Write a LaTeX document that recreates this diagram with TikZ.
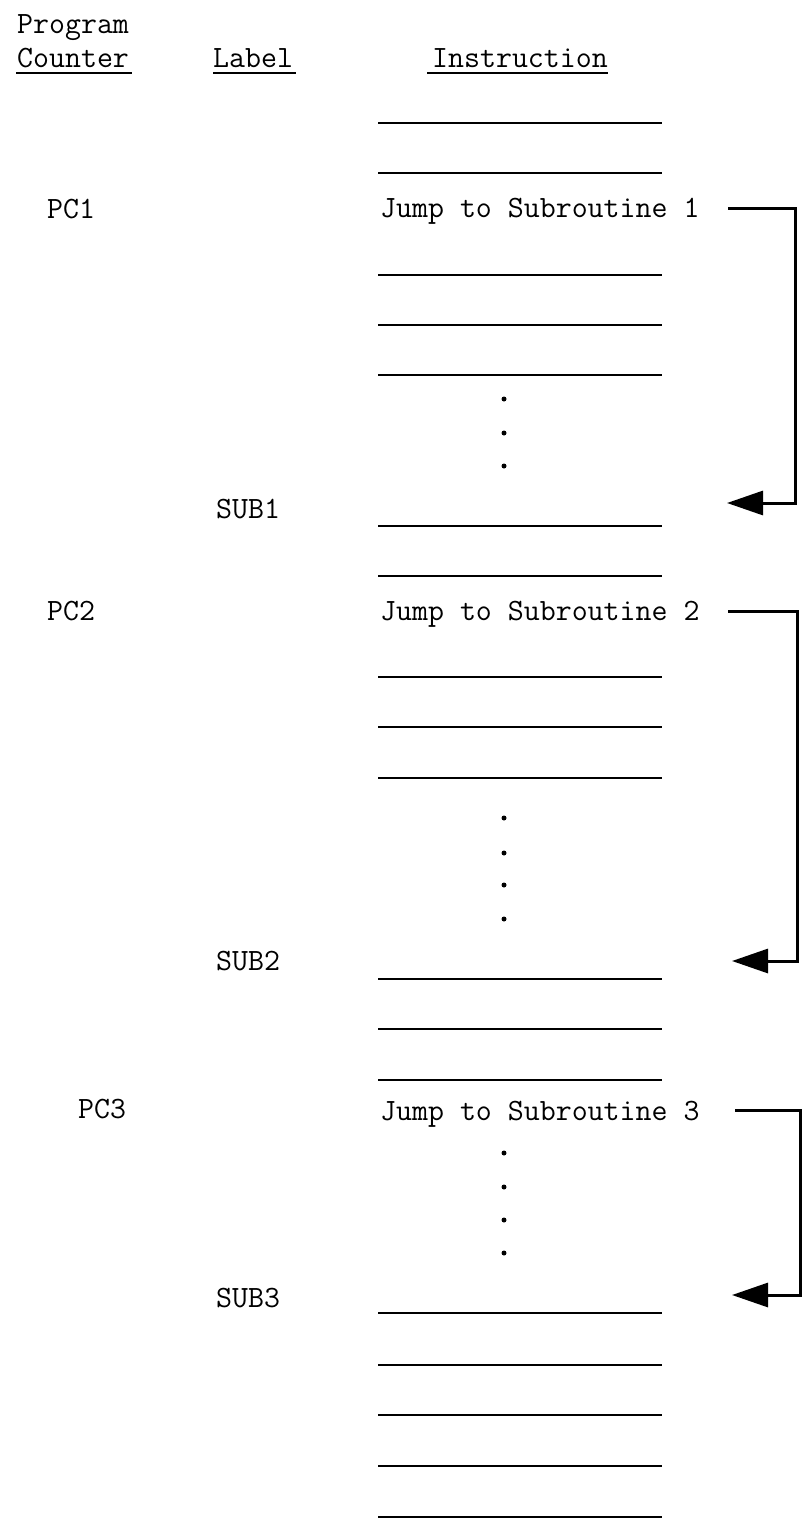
\documentclass[tikz,border=0pt]{standalone}
\usepackage{fontspec}
\usetikzlibrary{arrows.meta}
\tikzset{
  txt/.style={anchor=base west, inner sep=0pt, font=\fontsize{31}{37}\selectfont\ttfamily\addfontfeature{FakeBold=1.2}},
  rule/.style={line width=2pt},
  uline/.style={line width=2pt},
  jmp/.style={line width=3pt, line join=miter, -{Triangle[length=36pt,width=24pt]}},
  dotm/.style={circle, fill=black, inner sep=0pt, minimum size=5pt}
}
\begin{document}
\begin{tikzpicture}[x=1pt,y=-1pt]
\useasboundingbox (0,0) rectangle (806,1526);
% header
\node[txt] (prog) at (17,33) {Program};
\node[txt] (cnt) at (17,67) {Counter};
\node[txt] (lab) at (213,67) {Label};
\node[txt] (ins) at (432,67) {Instruction};
\draw[uline] ([yshift=-6pt,xshift=-1pt]cnt.base west) -- ([yshift=-6pt,xshift=3pt]cnt.base east);
\draw[uline] ([yshift=-6pt]lab.base west) -- ([yshift=-6pt,xshift=3pt]lab.base east);
\draw[uline] ([yshift=-6pt,xshift=-5pt]ins.base west) -- ([yshift=-6pt]ins.base east);
% program counters and labels
\node[txt] (pc1) at (47,218) {PC1};
\node[txt] (pc2) at (47,620) {PC2};
\node[txt] (pc3) at (78,1118) {PC3};
\node[txt] (s1) at (216,518) {SUB1};
\node[txt] (s2) at (216,970) {SUB2};
\node[txt] (s3) at (216,1307) {SUB3};
% jump instructions
\node[txt] (j1) at (380,217) {Jump to Subroutine 1};
\node[txt] (j2) at (380,620) {Jump to Subroutine 2};
\node[txt] (j3) at (380,1120) {Jump to Subroutine 3};
% instruction rules
\foreach \yy in {123,173,275,325,375,526,576,677,727,778,979,1029,1080,1313,1365,1415,1466,1517}
  \draw[rule] (378,\yy) -- (662,\yy);
% dots
\foreach \yy [count=\i] in {399,433,466,818,853,885,919,1153,1187,1220,1253}
  \node[dotm] (dot\i) at (504,\yy) {};
% jump arrows
\coordinate (b1s) at (728,208);
\coordinate (b1c) at (795,208);
\coordinate (b1e) at (727,503);
\coordinate (b2s) at (728,611);
\coordinate (b2c) at (797,611);
\coordinate (b2e) at (732,961);
\coordinate (b3s) at (735,1110);
\coordinate (b3c) at (800,1110);
\coordinate (b3e) at (732,1295);
\draw[jmp] (b1s) -- (b1c) |- (b1e);
\draw[jmp] (b2s) -- (b2c) |- (b2e);
\draw[jmp] (b3s) -- (b3c) |- (b3e);
\end{tikzpicture}
\end{document}
